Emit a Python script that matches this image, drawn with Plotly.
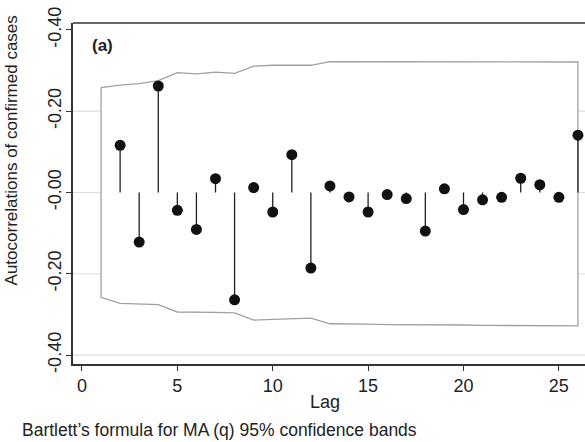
import plotly.graph_objects as go

# Autocorrelations of confirmed cases by lag
lags = list(range(2, 27))
acf = [0.116, -0.122, 0.262, -0.044, -0.091, 0.034, -0.264, 0.012, -0.048,
       0.093, -0.186, 0.016, -0.011, -0.048, -0.005, -0.015, -0.095, 0.009,
       -0.042, -0.018, -0.012, 0.035, 0.019, -0.012, 0.141]

# Bartlett's MA(q) 95% confidence band, lags 1..26
band_lags = list(range(1, 27))
band_upper = [0.258, 0.264, 0.268, 0.275, 0.295, 0.292, 0.296, 0.293, 0.311,
              0.313, 0.313, 0.313, 0.322, 0.322, 0.322, 0.322, 0.322, 0.322,
              0.322, 0.321, 0.321, 0.321, 0.321, 0.321, 0.321, 0.321]
band_lower = [-0.258, -0.273, -0.274, -0.276, -0.294, -0.295, -0.295, -0.296,
              -0.314, -0.312, -0.310, -0.309, -0.323, -0.324, -0.324, -0.325,
              -0.325, -0.326, -0.326, -0.326, -0.327, -0.327, -0.327, -0.327,
              -0.328, -0.328]

y_ticks = [0.4, 0.2, 0.0, -0.2, -0.4]
y_ticktext = ["-0.40", "-0.20", "-0.00", "-0.20", "-0.40"]
x_ticks = [0, 5, 10, 15, 20, 25]
grid_levels = [0.2, 0.0, -0.2, -0.4]

font_family = "Liberation Sans, Arial, sans-serif"
axis_color = "#333333"
text_color = "#222222"

fig = go.Figure()

# confidence band: white-filled area with a grey outline
fig.add_trace(go.Scatter(
    x=band_lags + band_lags[::-1] + [band_lags[0]],
    y=band_upper + band_lower[::-1] + [band_upper[0]],
    mode="lines", fill="toself", fillcolor="white",
    line=dict(color="#a0a0a0", width=1.3),
    hoverinfo="skip", showlegend=False,
))

# stems from zero to each autocorrelation
stem_x, stem_y = [], []
for lag, v in zip(lags, acf):
    stem_x += [lag, lag, None]
    stem_y += [0, v, None]
fig.add_trace(go.Scatter(
    x=stem_x, y=stem_y, mode="lines",
    line=dict(color="#222222", width=1.3),
    hoverinfo="skip", showlegend=False,
))

# markers
fig.add_trace(go.Scatter(
    x=lags, y=acf, mode="markers",
    marker=dict(color="#111111", size=11),
    showlegend=False,
))

shapes = []
for g in grid_levels:
    shapes.append(dict(type="line", xref="paper", yref="y", x0=0, x1=1, y0=g, y1=g,
                       line=dict(color="#dcdcdc", width=1.2), layer="below"))
# top frame line
shapes.append(dict(type="line", xref="paper", yref="paper", x0=0, x1=1, y0=1, y1=1,
                   line=dict(color=axis_color, width=1.6), layer="above"))

fig.update_layout(
    width=585, height=442,
    margin=dict(l=73, r=0, t=23, b=78),
    paper_bgcolor="white", plot_bgcolor="white",
    font=dict(family=font_family, color=text_color),
    shapes=shapes,
    annotations=[
        dict(text="<b>(a)</b>", xref="paper", yref="paper", x=0.033, y=0.935,
             xanchor="left", yanchor="middle", showarrow=False,
             font=dict(size=17, color=text_color)),
        dict(text="Autocorrelations of confirmed cases", xref="paper", yref="paper",
             x=-0.12, y=0.625, xanchor="center", yanchor="middle", textangle=-90,
             showarrow=False, font=dict(size=17, color=text_color)),
        dict(text="Lag", xref="paper", yref="paper", x=0.492, y=-0.112,
             xanchor="center", yanchor="middle", showarrow=False,
             font=dict(size=18, color=text_color)),
        dict(text="Bartlett’s formula for MA (q) 95% confidence bands", xref="paper",
             yref="paper", x=-0.103, y=-0.194, xanchor="left", yanchor="middle",
             showarrow=False, font=dict(size=17.5, color=text_color)),
    ],
    xaxis=dict(
        range=[-0.47, 26.37], tickvals=x_ticks, showgrid=False, zeroline=False,
        showline=True, linecolor=axis_color, linewidth=1.6,
        ticks="outside", ticklen=5, tickcolor=axis_color, tickwidth=1.2,
        tickfont=dict(size=18, color=text_color),
    ),
    yaxis=dict(
        range=[-0.422, 0.417], tickvals=y_ticks, ticktext=y_ticktext,
        tickangle=-90, showgrid=False, zeroline=False,
        showline=True, linecolor=axis_color, linewidth=1.6,
        ticks="outside", ticklen=5, tickcolor=axis_color, tickwidth=1.2,
        tickfont=dict(size=18, color=text_color), ticklabelstandoff=-2,
    ),
)

fig.write_html("out.html")
